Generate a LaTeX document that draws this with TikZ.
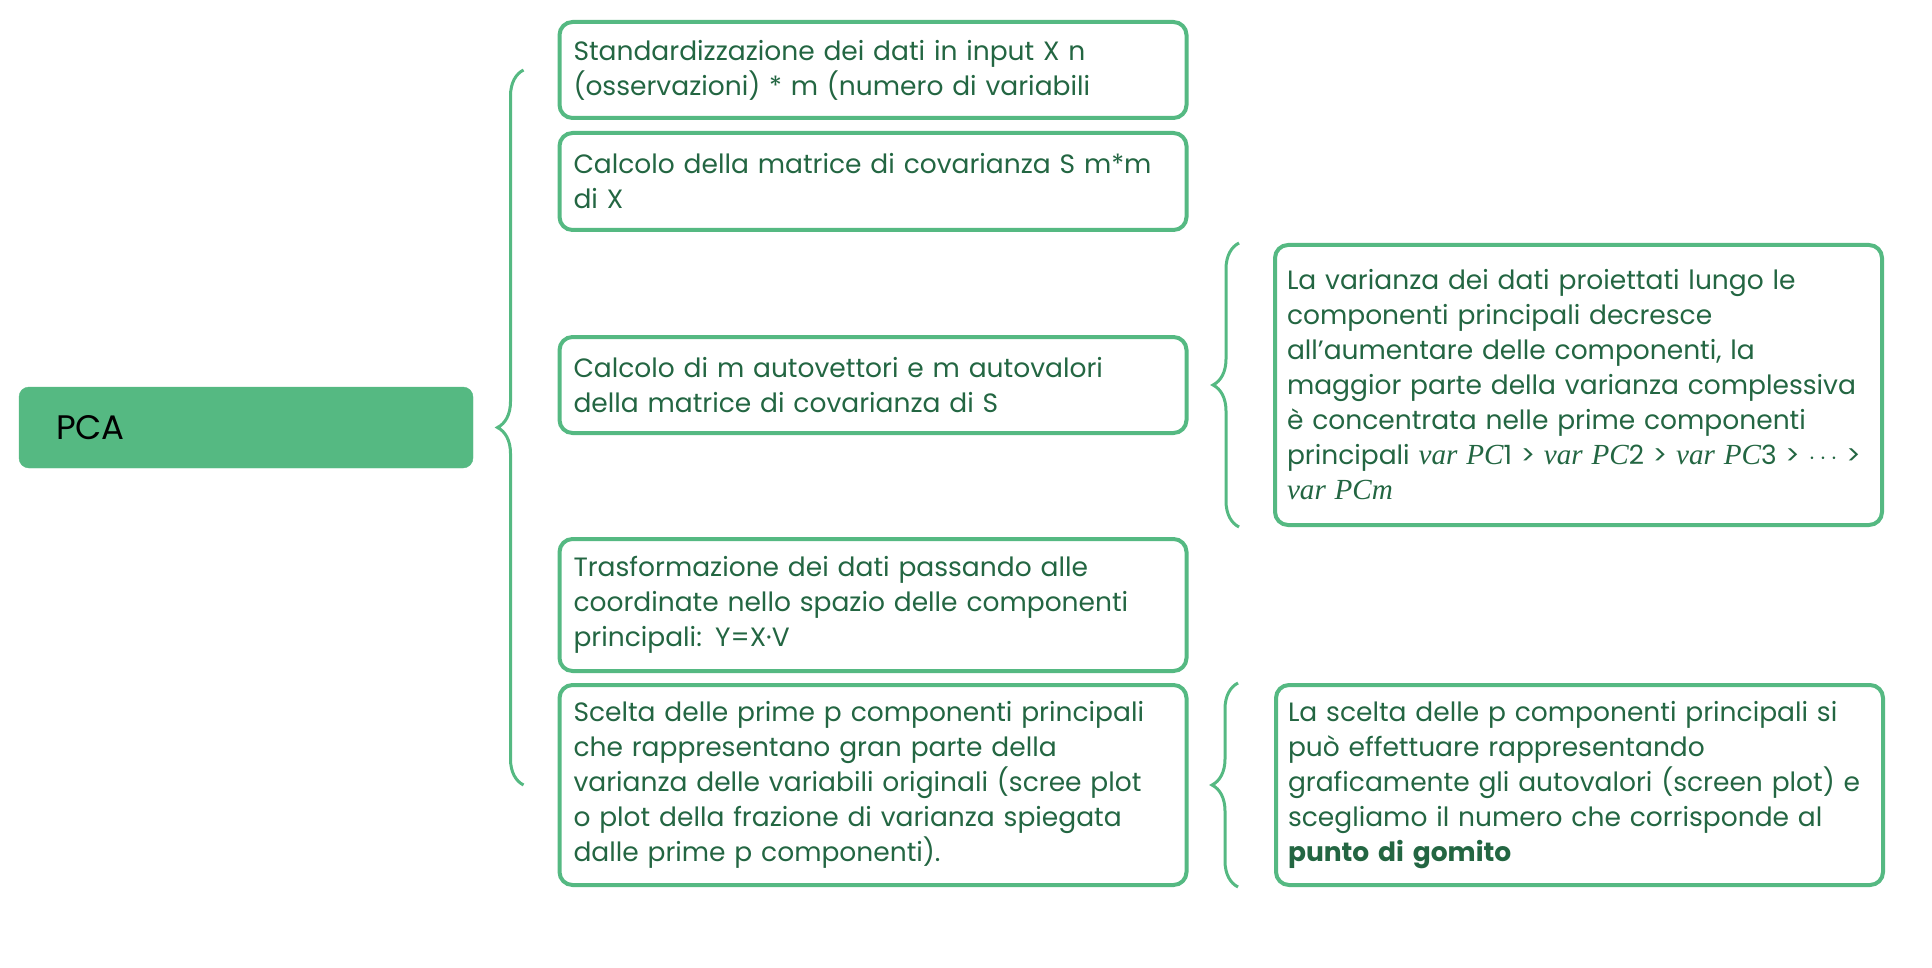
\documentclass[tikz,border=0pt]{standalone}
\usepackage{fontspec}
\setmainfont{Poppins}
\newfontfamily\mathserif[Scale=1.1]{Liberation Serif}
\usetikzlibrary{positioning,decorations.pathreplacing}
\definecolor{pcagreen}{HTML}{55B982}
\definecolor{txtgreen}{HTML}{236642}
\hyphenpenalty=10000
\newcommand{\vpc}[1]{{\mathserif\itshape var PC}#1}
\tikzset{
  root/.style={
    draw=pcagreen, fill=pcagreen, rounded corners=10pt,
    minimum width=454pt, minimum height=81pt,
    text width=380pt, align=left, inner xsep=37pt,
    font=\fontsize{34}{40}\selectfont
  },
  stepbox/.style={
    draw=pcagreen, line width=4pt, rounded corners=13pt,
    minimum width=627pt, text width=599pt, align=left,
    inner xsep=14pt, text=txtgreen,
    font=\fontsize{26.5}{35}\selectfont
  },
  notebox/.style={
    stepbox, minimum width=607pt, text width=583pt, inner xsep=12pt
  },
  curly/.style={
    draw=pcagreen, line width=3pt,
    decorate, decoration={brace, amplitude=26pt, aspect=0.5}
  }
}
\begin{document}
\begin{tikzpicture}[x=1pt, y=-1pt]
\useasboundingbox (0,0) rectangle (1932,968);

% ---------- root ----------
\node[root] (pca) at (246,427.5) {PCA};

% ---------- steps ----------
\node[stepbox, minimum height=96pt] (std) at (873,70)
  {Standardizzazione dei dati in input X n\\(osservazioni) * m (numero di variabili};
\node[stepbox, minimum height=97pt] (cov) at (873,181.5)
  {Calcolo della matrice di covarianza S m*m\\di X};
\node[stepbox, minimum height=96pt] (eig) at (873,385)
  {Calcolo di m autovettori e m autovalori\\della matrice di covarianza di S};
\node[stepbox, minimum height=132pt] (proj) at (873,605)
  {Trasformazione dei dati passando alle\\coordinate nello spazio delle componenti\\principali: Y=X·V};
\node[stepbox, minimum height=200pt] (sel) at (873,785)
  {Scelta delle prime p componenti principali\\che rappresentano gran parte della\\varianza delle variabili originali (scree plot\\o plot della frazione di varianza spiegata\\dalle prime p componenti).};

% ---------- notes ----------
\node[notebox, minimum height=280pt] (var) at (1578.5,385)
  {La varianza dei dati proiettati lungo le\\componenti principali decresce\\all’aumentare delle componenti, la\\maggior parte della varianza complessiva\\è concentrata nelle prime componenti\\principali \vpc{1}~>~\vpc{2}~>~\vpc{3}~>~$\cdots$~>\\{\mathserif\itshape var PCm}};
\node[notebox, minimum height=200pt] (elbow) at (1579.5,785)
  {La scelta delle p componenti principali si\\può effettuare rappresentando\\graficamente gli autovalori (screen plot) e\\scegliamo il numero che corrisponde al\\\textbf{punto di gomito}};

% ---------- braces ----------
\draw[curly] ([xshift=-34pt]sel.west) -- ([xshift=-34pt]std.west);
\draw[curly] ([xshift=-34pt]var.south west) -- ([xshift=-34pt]var.north west);
\draw[curly] ([xshift=-36pt]elbow.south west) -- ([xshift=-36pt]elbow.north west);

\end{tikzpicture}
\end{document}
